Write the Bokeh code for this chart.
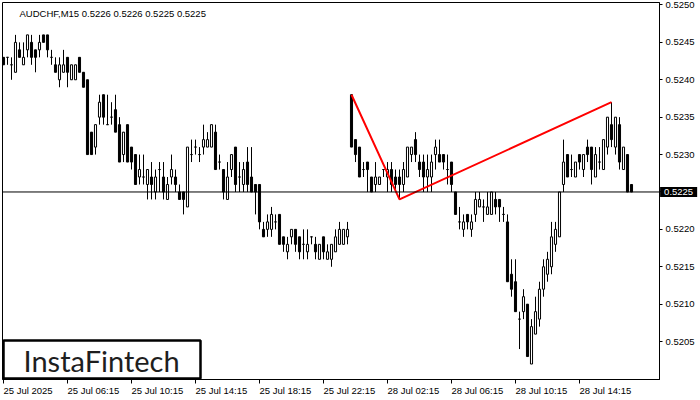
from bokeh.plotting import figure
from bokeh.models import (Range1d, FixedTicker, PrintfTickFormatter, Span, Label,
                          ColumnDataSource, BoxAnnotation)
from bokeh.core.properties import value
from bokeh.embed import file_html
from bokeh.resources import INLINE

# ---------------- data (AUDCHF M15) ----------------
open_ = [0.5243,0.5243,0.5242,0.5241,0.5244,0.5242,0.5244,0.5245,0.5244,0.5244,
         0.5246,0.5246,0.5243,0.5242,0.5240,0.5241,0.5243,0.5240,0.5240,0.5243,
         0.5241,0.5240,0.5233,0.5231,0.5235,0.5238,0.5234,0.5235,0.5236,0.5234,
         0.5230,0.5234,0.5231,0.5230,0.5227,0.5227,0.5226,0.5227,0.5225,0.5228,
         0.5227,0.5224,0.5227,0.5227,0.5225,0.5225,0.5223,0.5230,0.5231,0.5230,
         0.5231,0.5231,0.5231,0.5233,0.5229,0.5228,0.5224,0.5228,0.5231,0.5227,
         0.5226,0.5229,0.5227,0.5226,0.5226,0.5220,0.5220,0.5220,0.5221,0.5222,
         0.5219,0.5217,0.5219,0.5220,0.5219,0.5218,0.5217,0.5219,0.5218,0.5216,
         0.5219,0.5216,0.5216,0.5217,0.5218,0.5218,0.5219,0.5238,0.5232,0.5231,
         0.5228,0.5229,0.5227,0.5226,0.5226,0.5228,0.5227,0.5228,0.5227,0.5227,
         0.5226,0.5227,0.5230,0.5232,0.5229,0.5229,0.5227,0.5227,0.5230,0.5230,
         0.5230,0.5228,0.5229,0.5225,0.5221,0.5220,0.5222,0.5220,0.5222,0.5223,
         0.5223,0.5222,0.5222,0.5224,0.5224,0.5222,0.5221,0.5214,0.5213,0.5208,
         0.5209,0.5210,0.5202,0.5206,0.5208,0.5212,0.5214,0.5215,0.5218,0.5219,
         0.5226,0.5230,0.5228,0.5227,0.5230,0.5228,0.5231,0.5231,0.5227,0.5229,
         0.5228,0.5231,0.5234,0.5231,0.5234,0.5228,0.5230,0.5226]
high = [0.5243,0.5243,0.5243,0.5246,0.5245,0.5245,0.5246,0.5246,0.5244,0.5246,
        0.5246,0.5246,0.5244,0.5243,0.5243,0.5244,0.5243,0.5242,0.5242,0.5243,
        0.5241,0.5240,0.5233,0.5234,0.5238,0.5238,0.5238,0.5237,0.5238,0.5235,
        0.5233,0.5234,0.5231,0.5230,0.5230,0.5230,0.5228,0.5229,0.5228,0.5229,
        0.5229,0.5227,0.5230,0.5228,0.5226,0.5225,0.5231,0.5232,0.5232,0.5231,
        0.5234,0.5233,0.5234,0.5234,0.5230,0.5228,0.5229,0.5230,0.5231,0.5229,
        0.5229,0.5231,0.5231,0.5226,0.5226,0.5221,0.5222,0.5223,0.5222,0.5222,
        0.5219,0.5219,0.5220,0.5220,0.5219,0.5220,0.5220,0.5219,0.5219,0.5218,
        0.5219,0.5218,0.5218,0.5220,0.5221,0.5220,0.5221,0.5238,0.5232,0.5231,
        0.5229,0.5229,0.5227,0.5229,0.5227,0.5228,0.5229,0.5229,0.5228,0.5228,
        0.5229,0.5231,0.5231,0.5233,0.5230,0.5230,0.5230,0.5230,0.5232,0.5232,
        0.5230,0.5230,0.5229,0.5225,0.5223,0.5222,0.5222,0.5222,0.5225,0.5225,
        0.5224,0.5225,0.5225,0.5225,0.5224,0.5223,0.5222,0.5216,0.5216,0.5209,
        0.5212,0.5210,0.5208,0.5211,0.5213,0.5216,0.5217,0.5221,0.5221,0.5225,
        0.5232,0.5230,0.5230,0.5229,0.5230,0.5230,0.5232,0.5231,0.5231,0.5231,
        0.5232,0.5235,0.5237,0.5235,0.5235,0.5231,0.5230,0.5226]
low = [0.5242,0.5242,0.5240,0.5241,0.5243,0.5242,0.5243,0.5242,0.5241,0.5243,
       0.5245,0.5243,0.5242,0.5241,0.5239,0.5241,0.5239,0.5240,0.5240,0.5241,
       0.5239,0.5230,0.5230,0.5230,0.5234,0.5234,0.5234,0.5234,0.5233,0.5229,
       0.5229,0.5229,0.5228,0.5226,0.5226,0.5226,0.5224,0.5224,0.5224,0.5225,
       0.5224,0.5224,0.5226,0.5225,0.5224,0.5222,0.5223,0.5229,0.5230,0.5229,
       0.5230,0.5231,0.5231,0.5228,0.5228,0.5224,0.5224,0.5227,0.5225,0.5225,
       0.5225,0.5225,0.5225,0.5222,0.5220,0.5219,0.5219,0.5219,0.5220,0.5218,
       0.5217,0.5216,0.5218,0.5217,0.5216,0.5216,0.5216,0.5218,0.5216,0.5216,
       0.5216,0.5216,0.5215,0.5217,0.5218,0.5218,0.5218,0.5231,0.5229,0.5227,
       0.5227,0.5225,0.5225,0.5225,0.5226,0.5227,0.5225,0.5225,0.5225,0.5224,
       0.5225,0.5227,0.5229,0.5229,0.5227,0.5225,0.5225,0.5225,0.5228,0.5229,
       0.5228,0.5226,0.5225,0.5222,0.5220,0.5219,0.5220,0.5219,0.5221,0.5223,
       0.5221,0.5222,0.5222,0.5222,0.5221,0.5221,0.5213,0.5211,0.5209,0.5204,
       0.5208,0.5203,0.5202,0.5206,0.5207,0.5211,0.5213,0.5214,0.5217,0.5219,
       0.5225,0.5227,0.5227,0.5227,0.5228,0.5227,0.5229,0.5226,0.5227,0.5228,
       0.5228,0.5230,0.5231,0.5230,0.5228,0.5228,0.5225,0.5225]
close = [0.5242,0.5243,0.5242,0.5245,0.5243,0.5243,0.5246,0.5243,0.5243,0.5245,
         0.5245,0.5244,0.5243,0.5241,0.5242,0.5242,0.5241,0.5242,0.5242,0.5241,
         0.5239,0.5230,0.5230,0.5234,0.5237,0.5235,0.5234,0.5235,0.5233,0.5229,
         0.5233,0.5229,0.5229,0.5226,0.5228,0.5227,0.5228,0.5226,0.5227,0.5228,
         0.5225,0.5226,0.5228,0.5226,0.5224,0.5224,0.5231,0.5230,0.5231,0.5230,
         0.5232,0.5232,0.5234,0.5228,0.5229,0.5225,0.5227,0.5230,0.5226,0.5227,
         0.5228,0.5226,0.5225,0.5225,0.5221,0.5219,0.5221,0.5222,0.5221,0.5218,
         0.5218,0.5218,0.5220,0.5218,0.5217,0.5218,0.5218,0.5219,0.5217,0.5218,
         0.5217,0.5217,0.5218,0.5219,0.5220,0.5220,0.5220,0.5231,0.5230,0.5227,
         0.5228,0.5228,0.5225,0.5227,0.5227,0.5228,0.5228,0.5226,0.5226,0.5226,
         0.5228,0.5231,0.5231,0.5230,0.5228,0.5227,0.5228,0.5229,0.5231,0.5229,
         0.5229,0.5228,0.5226,0.5222,0.5221,0.5221,0.5221,0.5221,0.5224,0.5224,
         0.5223,0.5223,0.5225,0.5223,0.5223,0.5222,0.5213,0.5212,0.5209,0.5208,
         0.5211,0.5203,0.5207,0.5209,0.5212,0.5215,0.5216,0.5219,0.5220,0.5225,
         0.5229,0.5227,0.5228,0.5229,0.5229,0.5230,0.5230,0.5228,0.5230,0.5229,
         0.5232,0.5235,0.5232,0.5235,0.5229,0.5231,0.5225,0.5225]
bar_index = list(range(len(close)))

time_tick_idx = [0, 16, 32, 48, 64, 80, 96, 112, 128, 144]
time_tick_labels = ["25 Jul 2025", "25 Jul 06:15", "25 Jul 10:15", "25 Jul 14:15",
                    "25 Jul 18:15", "25 Jul 22:15", "28 Jul 02:15", "28 Jul 06:15",
                    "28 Jul 10:15", "28 Jul 14:15"]
price_ticks = [0.5205, 0.5210, 0.5215, 0.5220, 0.5225, 0.5230, 0.5235, 0.5240, 0.5245, 0.5250]

pattern_idx = [87, 99, 152]
pattern_price = [0.5238, 0.5224, 0.5237]
current_price = 0.5225
current_label = "0.5225"
title_text = "AUDCHF,M15  0.5226 0.5226 0.5225 0.5225"

# ---------------- figure ----------------
FONT = "Liberation Sans"
X0, X1 = -0.25, 164.0
Y0, Y1 = 0.519993, 0.525033
p = figure(frame_width=657, frame_height=377, output_backend="svg", toolbar_location=None,
           x_range=Range1d(X0, X1), y_range=Range1d(Y0, Y1),
           y_axis_location="right", min_border_left=2, min_border_top=2,
           min_border_right=41, min_border_bottom=21)
p.background_fill_color = "white"
p.border_fill_color = "white"
p.outline_line_color = "black"
p.outline_line_width = 1
p.xgrid.visible = False
p.ygrid.visible = False

# y axis (right)
ya = p.yaxis[0]
ya.ticker = FixedTicker(ticks=price_ticks)
ya.formatter = PrintfTickFormatter(format="%.4f")
ya.major_tick_out = 3
ya.major_tick_in = 0
ya.minor_tick_out = 0
ya.minor_tick_in = 0
ya.major_label_standoff = 3
ya.major_label_text_font = FONT
ya.major_label_text_font_size = "9.5px"
ya.major_label_text_color = "black"
ya.axis_line_color = "black"

# x axis (below): tick marks from the axis, labels left-aligned at the ticks
xa = p.xaxis[0]
xa.ticker = FixedTicker(ticks=time_tick_idx)
xa.major_tick_out = 4
xa.major_tick_in = 0
xa.minor_tick_out = 0
xa.minor_tick_in = 0
xa.major_label_standoff = 2
xa.major_label_text_color = None
xa.major_label_text_font_size = "9.5px"
xa.axis_line_color = "black"

p.text(x=time_tick_idx, y=[0.52] * len(time_tick_idx), text=time_tick_labels,
       text_align="left", text_baseline="top", x_offset=0, y_offset=6,
       text_font=value(FONT), text_font_size="9.5px", text_color="black", level="overlay")

# candles
fill = ["white" if c >= o else "black" for o, c in zip(open_, close)]
src = ColumnDataSource(dict(x=bar_index, o=open_, h=high, l=low, c=close,
                            top=[max(o, c) for o, c in zip(open_, close)],
                            bottom=[min(o, c) for o, c in zip(open_, close)],
                            fill=fill))
p.segment(x0="x", y0="l", x1="x", y1="h", source=src, line_color="black", line_width=1)
p.vbar(x="x", width=0.52, top="top", bottom="bottom", source=src,
       fill_color="fill", line_color="black", line_width=1)

# current price line
p.add_layout(Span(location=current_price, dimension="width", line_color="black", line_width=1))

# pattern lines
p.line(pattern_idx, pattern_price, line_color="#ff0000", line_width=2)

# title
p.add_layout(Label(x=17, y=372, x_units="screen", y_units="screen", text=title_text,
                   text_align="left", text_baseline="top", text_font=FONT,
                   text_font_size="9.5px", text_color="black"))

# current price box on the price axis
p.text(x=[163.9], y=[current_price], text=[current_label], x_offset=1,
       text_align="left", text_baseline="middle", text_font=value(FONT),
       text_font_size="9.5px", text_color="white", background_fill_color="black",
       padding=(4, 2), level="overlay")

# logo
p.add_layout(BoxAnnotation(left=1, right=198, bottom=1, top=39,
                           left_units="screen", right_units="screen",
                           bottom_units="screen", top_units="screen",
                           fill_color="white", fill_alpha=1.0,
                           line_color="black", line_width=2.5, line_alpha=1.0))
p.add_layout(Label(x=21, y=19, x_units="screen", y_units="screen", text="InstaFintech",
                   text_align="left", text_baseline="middle", text_font="Lato",
                   text_font_size="29px", text_color="#1e1e1e"))

open("out.html", "w").write(file_html(p, INLINE))
